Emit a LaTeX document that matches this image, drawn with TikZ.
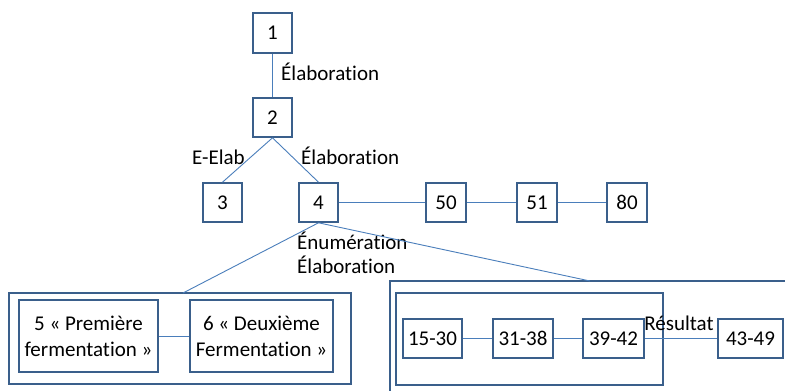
\documentclass[tikz,border=0pt]{standalone}
\usepackage{fontspec}
\setmainfont[Ligatures=CommonOff]{Carlito}
\definecolor{bord}{HTML}{3A5F8B}
\definecolor{conn}{HTML}{4A7EBB}
\begin{document}
\begin{tikzpicture}[x=1pt,y=-1pt,
  font=\fontsize{21}{26}\selectfont,
  box/.style={draw=bord,line width=1.6pt,inner sep=0pt,minimum height=39pt,minimum width=39pt,align=center},
  frame/.style={draw=bord,line width=1.6pt,inner sep=0pt},
  cn/.style={draw=conn,line width=0.9pt},
  lbl/.style={inner sep=0pt,anchor=west}]
\useasboundingbox[fill=white] (0,0) rectangle (785,391);
% top tree
\node[box,minimum height=40pt] (n1) at (272.5,33) {1};
\node[box] (n2) at (272.5,117.5) {2};
\node[box] (n3) at (222.5,202.5) {3};
\node[box] (n4) at (318.5,202.5) {4};
\node[box,minimum width=40pt] (n50) at (446,202.5) {50};
\node[box,minimum width=40pt] (n51) at (537,202.5) {51};
\node[box,minimum width=40pt] (n80) at (627,202.5) {80};
\draw[cn] (n1) -- (n2);
\draw[cn] (n2.south) -- (n3.north);
\draw[cn] (n2.south) -- (n4.north);
\draw[cn] (n4) -- (n50);
\draw[cn] (n50) -- (n51);
\draw[cn] (n51) -- (n80);
\node[lbl] (l1) at (281,72) {Élaboration};
\node[lbl] (l2) at (192,157) {E-Elab};
\node[lbl] (l3) at (301,156) {Élaboration};
\node[lbl] (l4) at (297,241) {Énumération};
\node[lbl] (l5) at (297,265) {Élaboration};
% left group
\node[frame,minimum width=342pt,minimum height=91pt] (gl) at (180,338.5) {};
\node[box,minimum width=139pt,minimum height=72pt] (n5) at (88.5,336) {5 « Première\\fermentation »};
\node[box,minimum width=143pt,minimum height=72pt] (n6) at (261.5,336) {6 « Deuxième\\Fermentation »};
\draw[cn] (n5) -- (n6);
% right group
\node[frame,minimum width=420pt,minimum height=130pt] (gr) at (600,346) {};
\coordinate (grtop) at (590,281);
\node[frame,minimum width=267pt,minimum height=92pt] (gi) at (529.5,339) {};
\node[box,minimum width=59pt] (a) at (432.5,338.5) {15-30};
\node[box,minimum width=60pt] (b) at (523,338.5) {31-38};
\node[box,minimum width=61pt] (c) at (613.5,338.5) {39-42};
\node[box,minimum width=65pt] (d) at (750.5,338.5) {43-49};
\draw[cn] (a) -- (b);
\draw[cn] (b) -- (c);
\draw[cn] (c) -- (d);
\node[inner sep=0pt] (res) at (679,323) {Résultat};
% links from 4
\draw[cn] (n4.south) -- (183,293);
\draw[cn] (n4.south) -- (grtop);
\end{tikzpicture}
\end{document}
